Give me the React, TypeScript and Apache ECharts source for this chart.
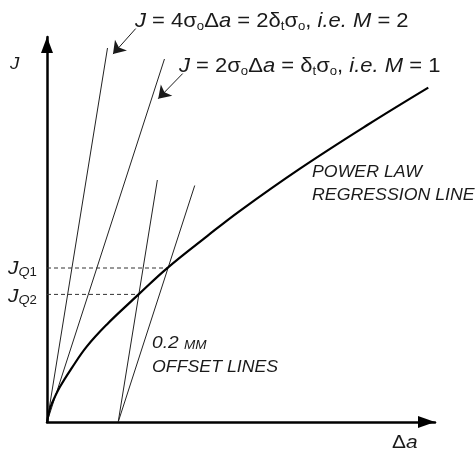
import React, { useEffect, useRef } from "react";
import * as echarts from "echarts";

// Δa in mm, J in arbitrary units (σo = 1)
const powerLaw: number[][] = [
  [0, 0], [0.0065, 0.02], [0.0132, 0.033], [0.0365, 0.064], [0.0694, 0.098],
  [0.1115, 0.137], [0.1677, 0.177], [0.2407, 0.222], [0.2565, 0.2316], [0.3362, 0.279],
  [0.45, 0.338], [0.5421, 0.384], [0.7107, 0.4607], [0.9, 0.54], [1.0711, 0.608],
];
const lineM2: number[][] = [[0, 0], [0.17, 0.68]];
const lineM1: number[][] = [[0, 0], [0.33, 0.66]];
const offsetM2: number[][] = [[0.2, 0], [0.31, 0.44]];
const offsetM1: number[][] = [[0.2, 0], [0.415, 0.43]];
const JQ1 = 0.28;
const JQ2 = 0.232;
const dashQ1: number[][] = [[0, JQ1], [0.3362, JQ1]];
const dashQ2: number[][] = [[0, JQ2], [0.2565, JQ2]];
const arrowM2: number[][] = [[0.2492, 0.7153], [0.1854, 0.6689]];
const arrowM1: number[][] = [[0.3812, 0.6335], [0.3124, 0.5878]];

const FONT = "'Liberation Sans', Arial, Helvetica, sans-serif";
const INK = "#1a1a1a";

export default function App() {
  const ref = useRef<HTMLDivElement>(null);
  useEffect(() => {
    if (!ref.current) return;
    const chart = echarts.init(ref.current, null, { renderer: "svg" });
    const thin = { width: 1, color: "#222" };
    const axisCommon = (max: number, size: number[]) => ({
      type: "value",
      min: 0,
      max,
      axisLine: {
        show: true,
        symbol: ["none", "triangle"],
        symbolSize: size,
        symbolOffset: [0, -size[1] / 2],
        lineStyle: { color: "#000", width: 2.5 },
      },
      axisTick: { show: false },
      axisLabel: { show: false },
      splitLine: { show: false },
    });
    const rich = (fs: number, lh: number) => ({
      n: { fontSize: fs, fontFamily: FONT, color: INK, lineHeight: lh },
      i: { fontSize: fs, fontFamily: FONT, color: INK, fontStyle: "italic", lineHeight: lh },
      s: { fontSize: Math.round(fs * 0.62), fontFamily: FONT, color: INK, lineHeight: Math.round(fs * 0.62), verticalAlign: "bottom" },
      si: { fontSize: Math.round(fs * 0.7), fontFamily: FONT, color: INK, fontStyle: "italic", lineHeight: Math.round(fs * 0.7), verticalAlign: "bottom" },
    });
    const txt = (x: number, y: number, text: string, fs: number, sx: number, lh?: number) => ({
      type: "text",
      x,
      y,
      scaleX: sx,
      style: {
        text,
        rich: rich(fs, lh ?? fs + 4),
        fontSize: fs,
        fontFamily: FONT,
        fill: INK,
        align: "left",
        verticalAlign: "middle",
      },
    });
    const caps = (fsBig: number, fsSmall: number) => ({
      b: { fontSize: fsBig, fontFamily: FONT, color: INK, fontStyle: "italic", lineHeight: fsBig, verticalAlign: "bottom" },
      c: { fontSize: fsSmall, fontFamily: FONT, color: INK, fontStyle: "italic", lineHeight: fsSmall, verticalAlign: "bottom" },
    });
    const capTxt = (x: number, y: number, text: string) => ({
      type: "text",
      x,
      y,
      scaleX: 1.13,
      style: { text, rich: caps(16, 15.7), fontFamily: FONT, fill: INK, align: "left", verticalAlign: "middle" },
    });
    chart.setOption({
      animation: false,
      grid: { left: 47, top: 37, width: 388, height: 385 },
      xAxis: axisCommon(1.09, [12, 17]),
      yAxis: axisCommon(0.7, [12, 16]),
      series: [
        { type: "line", data: lineM2, showSymbol: false, lineStyle: thin, silent: true },
        { type: "line", data: lineM1, showSymbol: false, lineStyle: thin, silent: true },
        { type: "line", data: offsetM2, showSymbol: false, lineStyle: thin, silent: true },
        { type: "line", data: offsetM1, showSymbol: false, lineStyle: thin, silent: true },
        { type: "line", data: dashQ1, showSymbol: false, lineStyle: { width: 1, color: "#333", type: [4, 3] }, silent: true },
        { type: "line", data: dashQ2, showSymbol: false, lineStyle: { width: 1, color: "#333", type: [4, 3] }, silent: true },
        {
          type: "line",
          data: powerLaw,
          showSymbol: false,
          smooth: 0.4,
          lineStyle: { width: 2.2, color: "#000" },
          silent: true,
        },
        {
          type: "lines",
          coordinateSystem: "cartesian2d",
          clip: false,
          symbol: ["none", "arrow"],
          symbolSize: [9, 12],
          lineStyle: { width: 1, color: INK, opacity: 1, curveness: 0 },
          data: [{ coords: arrowM2 }, { coords: arrowM1 }],
          silent: true,
        },
      ],
      graphic: [
        txt(135, 20, "{i|J}{n| = 4σ}{s|o}{n|Δ}{i|a}{n| = 2δ}{s|t}{n|σ}{s|o}{n|, }{i|i.e. M}{n| = 2}", 20, 1.1),
        txt(179, 65, "{i|J}{n| = 2σ}{s|o}{n|Δ}{i|a}{n| = δ}{s|t}{n|σ}{s|o}{n|, }{i|i.e. M}{n| = 1}", 20, 1.1),
        txt(10, 63, "{i|J}", 17, 1.1),
        txt(8, 267, "{i|J}{si|Q}{s|1}", 19, 1.1),
        txt(8, 295, "{i|J}{si|Q}{s|2}", 19, 1.1),
        txt(392, 441, "{n|Δ}{i|a}", 19, 1.1, 19),
        {
          type: "text",
          x: 152,
          y: 342,
          scaleX: 1.13,
          style: { text: "{b|0.2 }{c|MM}", rich: caps(17, 12), fontFamily: FONT, fill: INK, align: "left", verticalAlign: "middle" },
        },
        capTxt(152, 367, "{c|OFFSET LINES}"),
        capTxt(312, 172, "{c|POWER LAW}"),
        capTxt(312, 195, "{c|REGRESSION LINE}"),
      ],
    });
    return () => chart.dispose();
  }, []);
  return <div ref={ref} style={{ position: "fixed", left: 0, top: 0, width: 476, height: 451 }} />;
}
